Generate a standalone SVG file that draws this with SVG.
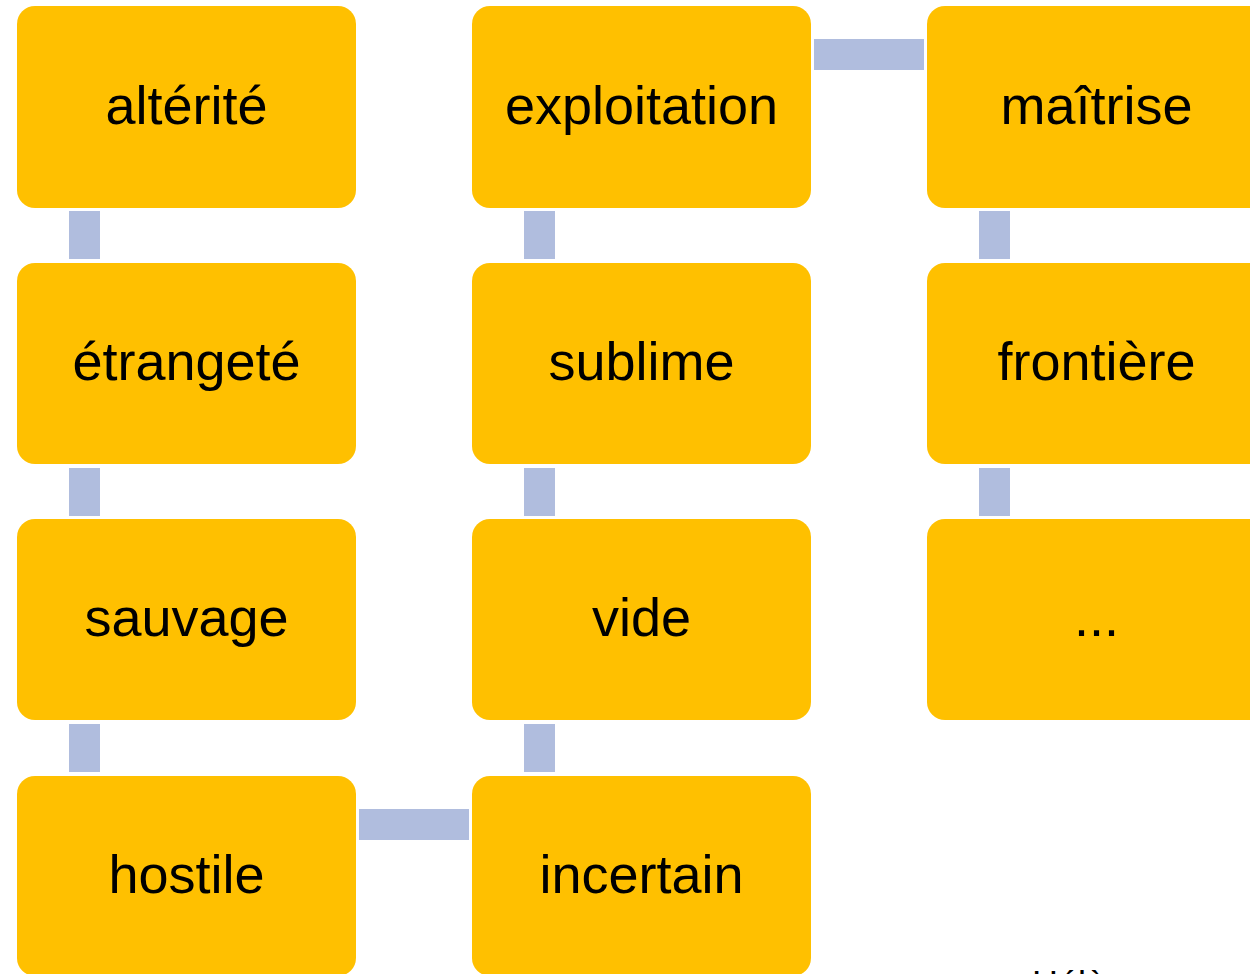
<svg xmlns="http://www.w3.org/2000/svg" width="1250" height="974" viewBox="0 0 1250 974">
<style>
.box{fill:#FFC000;}
.lnk{fill:#B0BDDE;}
.lbl{font-family:"Liberation Sans",Arial,sans-serif;font-size:54px;fill:#000;text-anchor:middle;}
.note{font-family:"Liberation Sans",Arial,sans-serif;font-size:36px;fill:#000;}
</style>
<rect width="1250" height="974" fill="#FFFFFF"/>
<g id="connectors">
<rect class="lnk" x="69" y="211" width="31" height="48"/>
<rect class="lnk" x="69" y="468" width="31" height="48"/>
<rect class="lnk" x="69" y="724" width="31" height="48"/>
<rect class="lnk" x="359" y="809" width="110" height="31"/>
<rect class="lnk" x="524" y="724" width="31" height="48"/>
<rect class="lnk" x="524" y="468" width="31" height="48"/>
<rect class="lnk" x="524" y="211" width="31" height="48"/>
<rect class="lnk" x="814" y="39" width="110" height="31"/>
<rect class="lnk" x="979" y="211" width="31" height="48"/>
<rect class="lnk" x="979" y="468" width="31" height="48"/>
</g>
<g id="n1"><rect class="box" x="17" y="6" width="339" height="202" rx="18"/><text class="lbl" x="186.5" y="124">altérité</text></g>
<g id="n2"><rect class="box" x="17" y="263" width="339" height="201" rx="18"/><text class="lbl" x="186.5" y="380">étrangeté</text></g>
<g id="n3"><rect class="box" x="17" y="519" width="339" height="201" rx="18"/><text class="lbl" x="186.5" y="636">sauvage</text></g>
<g id="n4"><rect class="box" x="17" y="776" width="339" height="200" rx="18"/><text class="lbl" x="186.5" y="893">hostile</text></g>
<g id="n5"><rect class="box" x="472" y="776" width="339" height="200" rx="18"/><text class="lbl" x="641.5" y="893">incertain</text></g>
<g id="n6"><rect class="box" x="472" y="519" width="339" height="201" rx="18"/><text class="lbl" x="641.5" y="636">vide</text></g>
<g id="n7"><rect class="box" x="472" y="263" width="339" height="201" rx="18"/><text class="lbl" x="641.5" y="380">sublime</text></g>
<g id="n8"><rect class="box" x="472" y="6" width="339" height="202" rx="18"/><text class="lbl" x="641.5" y="124">exploitation</text></g>
<g id="n9"><rect class="box" x="927" y="6" width="339" height="202" rx="18"/><text class="lbl" x="1096.5" y="124">maîtrise</text></g>
<g id="n10"><rect class="box" x="927" y="263" width="339" height="201" rx="18"/><text class="lbl" x="1096.5" y="380">frontière</text></g>
<g id="n11"><rect class="box" x="927" y="519" width="339" height="201" rx="18"/><text class="lbl" x="1096.5" y="636">...</text></g>
<text class="note" x="1032" y="997">Hélène</text>
</svg>
